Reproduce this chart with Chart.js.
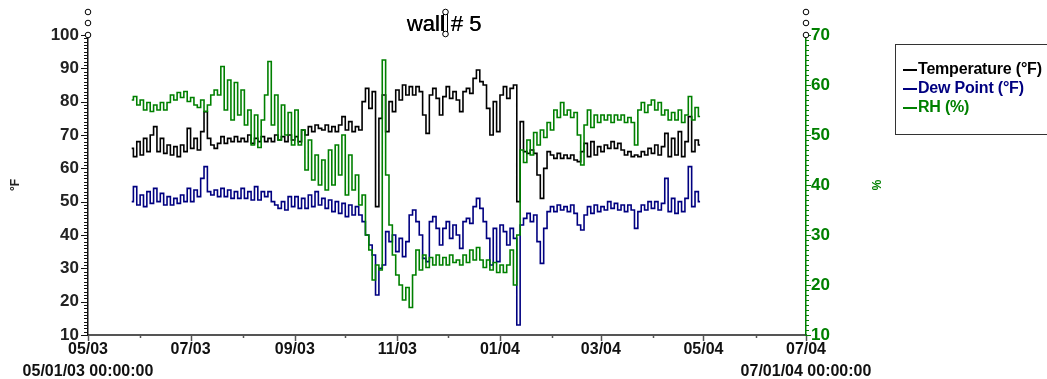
<!DOCTYPE html>
<html>
<head>
    <title>wall # 5</title>
    <script src="https://cdn.jsdelivr.net/npm/chart.js"></script>
    <style>
        body { margin: 0; background: #fff; overflow: hidden; }
        #wrap { position: relative; width: 1047px; height: 379px; }
        #legend {
            position: absolute; left: 895px; top: 44px; width: 170px; height: 91px;
            border: 1.5px solid #333; box-sizing: border-box;
            padding: 14px 0 0 7px;
            font: bold 16px "Liberation Sans", Arial, sans-serif;
        }
        #legend div { height: 19px; line-height: 19px; white-space: nowrap; letter-spacing: -0.2px; }
        #legend span { display: inline-block; width: 14px; height: 2px; vertical-align: middle; margin-right: 1px; }
    </style>
</head>
<body>

<div id="wrap">
    <canvas id="wallChart" width="1047" height="379"></canvas>
    <div id="legend">
        <div style="color:#000"><span style="background:#000"></span>Temperature (°F)</div>
        <div style="color:#000080"><span style="background:#000080"></span>Dew Point (°F)</div>
        <div style="color:#008000"><span style="background:#008000"></span>RH (%)</div>
    </div>
</div>

<script>
    // days counted from 05/01/03, one reading every 2 days starting on day 26
    const startDay = 26;
    const stepDays = 2;

    // x axis: first day of each month, labels every 2 months
    const monthStarts = [0, 31, 61, 92, 123, 153, 184, 214, 245, 276, 305, 336, 366, 397, 427];
    const monthLabels = ['05/03', '', '07/03', '', '09/03', '', '11/03', '', '01/04', '', '03/04', '', '05/04', '', '07/04'];
    const firstDateLabel = '05/01/03 00:00:00';
    const lastDateLabel = '07/01/04 00:00:00';

    const temperature = [
        66, 63.5, 68, 64, 69, 65, 70, 72.5, 65, 69,
        64.5, 67, 64, 66.5, 63.5, 67, 65, 72, 66, 69,
        65.5, 71, 77, 69, 67, 66, 67.5, 69.5, 67.5, 69,
        68, 69.5, 68, 69, 68, 70, 67.5, 69, 68, 69.5,
        68, 69, 68, 70, 68.5, 69.5, 68, 70, 68.5, 69.5,
        68, 71.5, 70, 72.5, 71, 73, 72, 71.5, 73, 71,
        72.5, 71, 73, 75.5, 71.5, 74, 71, 72.5, 71.5, 80,
        84, 78, 83, 48.5, 75, 82, 71, 80, 77, 83.5,
        80.5, 85, 82, 84.5, 82, 84.5, 83, 76, 70.5, 82,
        84, 81, 76, 81.5, 84.5, 81, 83, 80.5, 77, 83,
        84, 82.5, 87, 89.5, 86, 85, 78, 70, 80, 71,
        82, 84.5, 81, 84, 85, 50, 74, 65, 64.5, 65.5,
        64.5, 58, 51, 60, 65, 64, 63, 64.5, 63, 64,
        63, 64, 62.5, 62, 65, 67.5, 63.5, 68, 64, 66.5,
        65, 67, 66, 68, 66, 67.5, 65.5, 64, 65, 63.5,
        64, 63.5, 65, 64, 66, 64.5, 67, 64, 66.5, 70.5,
        63.5, 69, 64, 71, 63.5, 68, 75.5, 65, 68.5, 67
    ];

    const dewPoint = [
        50, 54.5, 49, 52, 48.5, 53, 49.5, 54, 50, 52.5,
        49, 51.5, 49, 51, 49.5, 52, 50, 54, 50, 53.5,
        51.5, 57, 60.5, 53, 52, 53.5, 51.5, 54, 51.5, 53.5,
        51, 53, 51, 54, 51, 53, 50.5, 54.5, 50.5, 53,
        51.5, 53, 50, 49, 48, 50, 47.5, 51.5, 48.5, 51.5,
        48, 51, 48, 52, 48.5, 53, 49, 51, 48, 50.5,
        47, 50, 46.5, 49.5, 45.5, 49, 46, 48.5, 46, 44,
        40, 37, 34, 22, 30, 31, 41, 38, 40, 35,
        39, 33.5, 38, 46, 47.5, 44, 40, 33, 32, 44,
        45.5, 42, 37, 42, 44, 39, 43, 40, 36, 44,
        45, 43.5, 48.5, 51, 48, 44, 39, 31, 42, 32,
        43, 41, 37, 42, 39, 13, 43, 45, 46.5, 44,
        46, 38, 31.5, 42, 47, 48.5, 47, 49, 47.5, 48.5,
        47, 49, 46.5, 43, 41.5, 46, 48.5, 46.5, 49, 47,
        48.5, 47.5, 50, 48, 49.5, 47.5, 49, 47, 49, 47.5,
        42, 47, 49, 47.5, 50, 48, 50, 47.5, 49.5, 57,
        47, 51, 46.5, 50, 47, 51, 60.5, 48.5, 53, 50
    ];

    const rh = [
        57, 57.7, 56, 57, 55, 56.5, 54.7, 56, 55, 56.5,
        55, 56.5, 58, 57, 58.5, 57.5, 58.7, 56.7, 57.5, 56,
        55.5, 57, 54.7, 56, 58, 59, 58, 63.7, 55, 61,
        53, 60.5, 54, 59, 52, 55, 48, 54, 47.5, 53,
        58, 64.7, 52, 58, 49, 56, 50, 54.5, 48, 55,
        48, 51, 43, 49, 41, 46, 40, 45, 39, 47,
        40, 48, 42, 50, 38, 46, 39, 42, 36, 38,
        30, 27, 21, 24, 23, 65, 42, 32, 26, 22,
        20, 17, 19.5, 15.5, 22, 27, 23, 26, 23.5, 25.5,
        24, 26, 24, 25.5, 24, 26, 24.5, 25, 24, 26,
        24.5, 27, 25, 27.5, 25, 23.5, 25, 23, 24.5, 22.5,
        24, 22.5, 24, 27, 20, 30, 47, 44.5, 49, 46,
        50.5, 48, 51, 49.5, 52.5, 51, 55, 53.5, 56.5, 54,
        55, 53.5, 54.5, 50, 44, 52, 55, 51.5, 54, 52.5,
        54, 53, 54, 52.5, 54, 53, 54, 52.5, 53.5, 52.5,
        48, 55, 56.5, 54.5, 56, 57, 55, 56.5, 54, 55,
        53, 54.5, 53, 55, 52.5, 54, 57.7, 53, 55.5, 53.7
    ];

    const days = temperature.map((_, i) => startDay + i * stepDays);
    const toPoints = values => values.map((v, i) => ({ x: days[i], y: v }));

    Chart.defaults.font.family = '"Liberation Sans", Arial, sans-serif';

    // axis tick marks (major + minor), title and the little selection handles
    const axisMarks = {
        id: 'axisMarks',
        afterDraw(chart) {
            const { ctx, chartArea } = chart;
            const x = chart.scales.x, yl = chart.scales.y, yr = chart.scales.y1;
            ctx.save();

            ctx.lineWidth = 1.5;
            ctx.strokeStyle = '#555';
            monthStarts.forEach((d, i) => {
                const px = Math.round(x.getPixelForValue(d)) + 0.5;
                ctx.beginPath();
                ctx.moveTo(px, x.top);
                ctx.lineTo(px, x.top + (i % 2 === 0 ? 6 : 3));
                ctx.stroke();
            });

            ctx.lineWidth = 1;
            ctx.strokeStyle = '#111';
            for (let v = yl.min; v <= yl.max; v++) {
                const py = Math.round(yl.getPixelForValue(v)) + 0.5;
                ctx.beginPath();
                ctx.moveTo(yl.right, py);
                ctx.lineTo(yl.right - (v % 10 === 0 ? 7 : 4), py);
                ctx.stroke();
            }

            ctx.strokeStyle = '#008000';
            for (let v = yr.min; v <= yr.max; v++) {
                const py = Math.round(yr.getPixelForValue(v)) + 0.5;
                ctx.beginPath();
                ctx.moveTo(yr.left, py);
                ctx.lineTo(yr.left + (v % 10 === 0 ? 5 : 3), py);
                ctx.stroke();
            }

            // title
            const cx = (chartArea.left + chartArea.right) / 2;
            ctx.fillStyle = '#000';
            ctx.font = '22px "Liberation Sans", Arial, sans-serif';
            ctx.textAlign = 'center';
            ctx.textBaseline = 'alphabetic';
            ctx.fillText('wall # 5', cx - 3, chartArea.top - 4);
            ctx.fillText('wall # 5', cx - 2.6, chartArea.top - 4);

            // handles
            ctx.strokeStyle = '#000';
            ctx.fillStyle = '#fff';
            ctx.lineWidth = 1;
            const circle = (px, py) => {
                ctx.beginPath();
                ctx.arc(px, py, 2.8, 0, Math.PI * 2);
                ctx.fill();
                ctx.stroke();
            };
            [yl.right, yr.left].forEach(px => {
                [23, 12, 0].forEach(dy => circle(px, chartArea.top - dy));
            });
            const hx = cx - 1.5;
            ctx.fillRect(hx - 2, chartArea.top - 21, 4, 18);
            ctx.strokeRect(hx - 2, chartArea.top - 21, 4, 18);
            circle(hx, chartArea.top - 23);
            circle(hx, chartArea.top - 1);

            ctx.restore();
        }
    };

    const ctx = document.getElementById('wallChart').getContext('2d');
    const wallChart = new Chart(ctx, {
        type: 'line',
        data: {
            datasets: [
                {
                    label: 'Temperature (°F)',
                    data: toPoints(temperature),
                    yAxisID: 'y',
                    borderColor: '#000000',
                    order: 2
                },
                {
                    label: 'Dew Point (°F)',
                    data: toPoints(dewPoint),
                    yAxisID: 'y',
                    borderColor: '#000080',
                    order: 1
                },
                {
                    label: 'RH (%)',
                    data: toPoints(rh),
                    yAxisID: 'y1',
                    borderColor: '#008000',
                    order: 0
                }
            ]
        },
        options: {
            responsive: false,
            animation: false,
            events: [],
            elements: {
                line: { borderWidth: 1.6, tension: 0, stepped: 'middle' },
                point: { radius: 0 }
            },
            layout: { padding: { top: 35, left: 0, right: 0, bottom: 0 } },
            plugins: {
                legend: { display: false },
                tooltip: { enabled: false }
            },
            scales: {
                x: {
                    type: 'linear',
                    min: 0,
                    max: 427,
                    afterBuildTicks: scale => { scale.ticks = monthStarts.map(v => ({ value: v })); },
                    afterFit: scale => { scale.height = 44; },
                    ticks: {
                        autoSkip: false,
                        maxRotation: 0,
                        minRotation: 0,
                        padding: 4,
                        color: '#111',
                        font: { size: 16, weight: 'bold', lineHeight: 1.375 },
                        callback: (value, index) => {
                            if (index === 0) return [monthLabels[0], firstDateLabel];
                            if (index === monthLabels.length - 1) return [monthLabels[index], lastDateLabel];
                            return monthLabels[index];
                        }
                    },
                    grid: { display: false, drawTicks: false },
                    border: { display: true, color: '#555', width: 2 }
                },
                y: {
                    position: 'left',
                    min: 10,
                    max: 100,
                    afterFit: scale => { scale.width = 88; },
                    ticks: {
                        stepSize: 10,
                        padding: 9,
                        color: '#222',
                        font: { size: 17, weight: 'bold' }
                    },
                    title: {
                        display: true,
                        text: '°F',
                        color: '#222',
                        font: { size: 12, weight: 'bold' },
                        padding: { top: 8, bottom: 0 }
                    },
                    grid: { display: false, drawTicks: false },
                    border: { display: true, color: '#111', width: 1.5 }
                },
                y1: {
                    position: 'right',
                    min: 10,
                    max: 70,
                    afterFit: scale => { scale.width = 241; },
                    ticks: {
                        stepSize: 10,
                        padding: 5,
                        color: '#008000',
                        font: { size: 17, weight: 'bold' }
                    },
                    title: {
                        display: true,
                        text: '%',
                        color: '#008000',
                        font: { size: 12, weight: 'bold' },
                        padding: { top: 164, bottom: 0 }
                    },
                    grid: { display: false, drawTicks: false },
                    border: { display: true, color: '#008000', width: 1.5 }
                }
            }
        },
        plugins: [axisMarks]
    });
</script>

</body>
</html>
